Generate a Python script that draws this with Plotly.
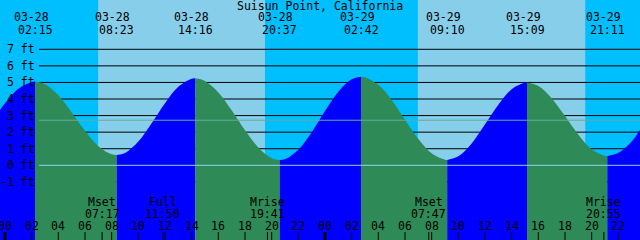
import plotly.graph_objects as go

# ---------------- data (hours since 03-28 00:00 local) ----------------
title_text = "Suisun Point, California"

curve_hours = [-0.375, 0, 1, 2, 2.25, 3, 4, 5, 6, 7, 8, 8.383, 9, 10, 11, 12, 13, 14, 14.267,
               15, 16, 17, 18, 19, 20, 20.617, 21, 22, 23, 24, 25, 26, 26.7, 27, 28, 29, 30,
               31, 32, 33, 33.167, 34, 35, 36, 37, 38, 39, 39.15, 40, 41, 42, 43, 44, 45,
               45.183, 46, 47, 47.625]
curve_feet = [3.34, 3.74, 4.62, 5.03, 5.05, 4.89, 4.22, 3.19, 2.08, 1.15, 0.66, 0.62, 0.74,
              1.43, 2.54, 3.75, 4.74, 5.23, 5.25, 5.09, 4.40, 3.32, 2.11, 1.07, 0.43, 0.32,
              0.37, 0.94, 2.00, 3.28, 4.44, 5.19, 5.35, 5.32, 4.86, 3.94, 2.75, 1.59, 0.72,
              0.33, 0.32, 0.54, 1.32, 2.47, 3.66, 4.59, 4.99, 5.00, 4.79, 4.05, 2.97, 1.85,
              0.97, 0.57, 0.56, 0.75, 1.44, 2.15]

tide_hours = [2.25, 8.383, 14.267, 20.617, 26.7, 33.167, 39.15, 45.183]
tide_dates = ["03-28", "03-28", "03-28", "03-28", "03-29", "03-29", "03-29", "03-29"]
tide_times = ["02:15", "08:23", "14:16", "20:37", "02:42", "09:10", "15:09", "21:11"]

sunrise_hours = [6.983, 30.967]
sunset_hours = [19.5, 43.517]

moon_hours = [7.283, 11.833, 19.683, 31.783, 44.917]
moon_names = ["Mset", "Full", "Mrise", "Mset", "Mrise"]
moon_times = ["07:17", "11:50", "19:41", "07:47", "20:55"]

hour_ticks = [0, 2, 4, 6, 8, 10, 12, 14, 16, 18, 20, 22, 24, 26, 28, 30, 32, 34, 36, 38,
              40, 42, 44, 46, 48]
hour_labels = ["00", "02", "04", "06", "08", "10", "12", "14", "16", "18", "20", "22",
               "00", "02", "04", "06", "08", "10", "12", "14", "16", "18", "20", "22", "00"]
midnight_hours = [0, 24, 48]

level_feet = [-1, 0, 1, 2, 3, 4, 5, 6, 7]
level_labels = ["-1 ft", "0 ft", "1 ft", "2 ft", "3 ft", "4 ft", "5 ft", "6 ft", "7 ft"]
mean_level = 2.72

# ---------------- styles ----------------
W, H = 640, 240
NIGHT = "#00BFFF"
DAY = "#87CEEB"
FLOOD = "#0000FF"
EBB = "#2E8B57"
FONT = dict(family="DejaVu Sans Mono", size=11.5, color="black")
X_RANGE = [-0.375, 47.625]
Y_RANGE = [-4.508, 9.975]
LINE_START = 39 / W


def py(pix):
    return 1 - pix / H


fig = go.Figure()

# tide fill segments (rising = blue, falling = green)
breaks = [curve_hours[0]] + tide_hours + [curve_hours[-1]]
for a, b in zip(breaks[:-1], breaks[1:]):
    xs = [t for t in curve_hours if a <= t <= b]
    ys = [curve_feet[curve_hours.index(t)] for t in xs]
    color = FLOOD if ys[-1] > ys[0] else EBB
    fig.add_trace(go.Scatter(x=[a, b], y=[-10, -10], mode="lines",
                             line=dict(width=0), hoverinfo="skip", showlegend=False))
    fig.add_trace(go.Scatter(x=xs, y=ys, mode="lines", fill="tonexty", fillcolor=color,
                             line=dict(width=0, shape="spline", color=color),
                             hoverinfo="skip", showlegend=False))

shapes = []
# daylight bands
for sr, ss in zip(sunrise_hours, sunset_hours):
    shapes.append(dict(type="rect", xref="x", yref="paper", x0=sr, x1=ss, y0=0, y1=1,
                       fillcolor=DAY, line=dict(width=0), layer="below"))
# level lines (behind tide)
for lv in level_feet:
    shapes.append(dict(type="line", xref="paper", yref="y", x0=LINE_START, x1=1, y0=lv, y1=lv,
                       line=dict(color="black", width=1), layer="below"))
# datum and mean lines (above tide)
shapes.append(dict(type="line", xref="paper", yref="y", x0=LINE_START, x1=1, y0=0, y1=0,
                   line=dict(color="#8FD3F0", width=1), layer="above"))
shapes.append(dict(type="line", xref="paper", yref="y", x0=LINE_START, x1=1,
                   y0=mean_level, y1=mean_level,
                   line=dict(color="#62AE9C", width=1), layer="above"))
# hour ticks
for h in hour_ticks:
    w = 3 if h in midnight_hours else 1
    shapes.append(dict(type="line", xref="x", yref="paper", x0=h, x1=h, y0=0, y1=8 / H,
                       line=dict(color="black", width=w), layer="above"))
# moon event ticks
for h in moon_hours:
    shapes.append(dict(type="line", xref="x", yref="paper", x0=h, x1=h, y0=0, y1=8 / H,
                       line=dict(color="black", width=1), layer="above"))

ann = []
ann.append(dict(text=title_text, xref="paper", yref="paper", x=0.5, y=py(5.5),
                xanchor="center", yanchor="middle", showarrow=False, font=FONT))
for h, d, t in zip(tide_hours, tide_dates, tide_times):
    ann.append(dict(text=d, xref="x", yref="paper", x=h - 0.3, y=py(17.5),
                    xanchor="center", yanchor="middle", showarrow=False, font=FONT))
    ann.append(dict(text=t, xref="x", yref="paper", x=h, y=py(29.5),
                    xanchor="center", yanchor="middle", showarrow=False, font=FONT))
for lv, lab in zip(level_feet, level_labels):
    ann.append(dict(text=lab, xref="paper", yref="y", x=37 / W, y=lv,
                    xanchor="right", yanchor="middle", showarrow=False, font=FONT))
for h, n, t in zip(moon_hours, moon_names, moon_times):
    ann.append(dict(text=n, xref="x", yref="paper", x=h, y=py(201.5),
                    xanchor="center", yanchor="middle", showarrow=False, font=FONT))
    ann.append(dict(text=t, xref="x", yref="paper", x=h, y=py(213.8),
                    xanchor="center", yanchor="middle", showarrow=False, font=FONT))
for h, lab in zip(hour_ticks, hour_labels):
    ann.append(dict(text=lab, xref="x", yref="paper", x=h, y=py(226),
                    xanchor="center", yanchor="middle", showarrow=False, font=FONT))

fig.update_layout(
    width=W, height=H, margin=dict(l=0, r=0, t=0, b=0),
    plot_bgcolor=NIGHT, paper_bgcolor=NIGHT,
    xaxis=dict(range=X_RANGE, visible=False, fixedrange=True),
    yaxis=dict(range=Y_RANGE, visible=False, fixedrange=True),
    shapes=shapes, annotations=ann, showlegend=False,
)

fig.write_html("out.html", config={"displayModeBar": False})
